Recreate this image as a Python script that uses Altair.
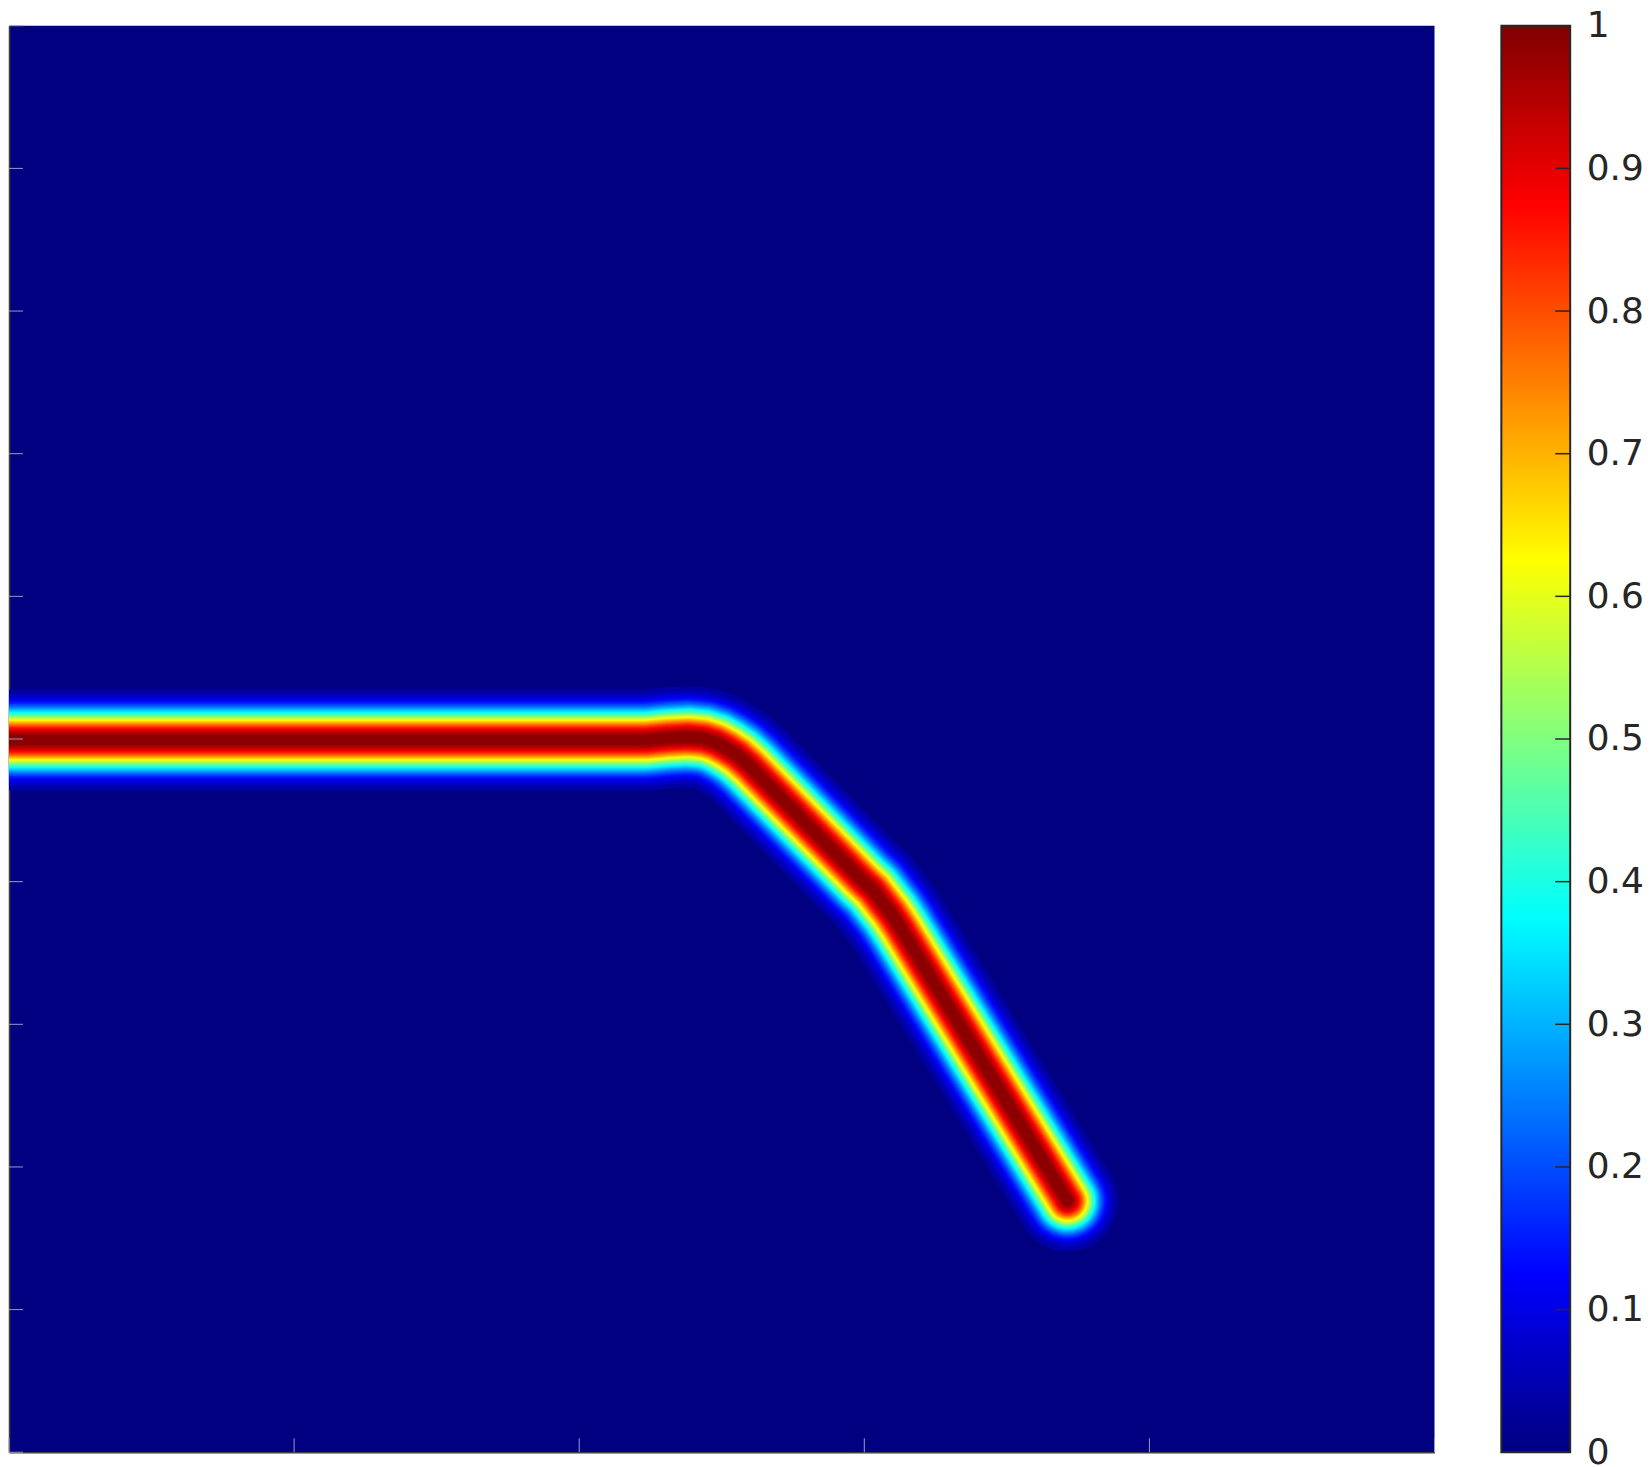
import altair as alt
import numpy as np
import pandas as pd

# ---- data ----
# crack centre line (domain units, x right, y up)
crack_x = [0.0, 0.4469, 0.4623, 0.4763, 0.4875, 0.4959, 0.5036, 0.5112, 0.5196,
           0.5987, 0.6060, 0.6125, 0.6186, 0.6245, 0.7425]
crack_y = [0.4993, 0.4993, 0.5007, 0.5014, 0.5003, 0.4976, 0.4934, 0.4885, 0.4811,
           0.4008, 0.3941, 0.3857, 0.3780, 0.3691, 0.1762]

y_ticks = [0.0, 0.1, 0.2, 0.3, 0.4, 0.5, 0.6, 0.7, 0.8, 0.9, 1.0]
x_ticks = [0.0, 0.2, 0.4, 0.6, 0.8, 1.0]
cb_ticks = [0.0, 0.1, 0.2, 0.3, 0.4, 0.5, 0.6, 0.7, 0.8, 0.9, 1.0]

# ---- styles ----
W, H = 1429, 1430
CB_W = 69
PROFILE_PX = 28.0   # half width scale of the smeared crack (pixels)
PROFILE_POW = 2.2   # flatness of the crack profile

jet_offsets = [0.0, 0.125, 0.375, 0.625, 0.875, 1.0]
jet_rgb = [(0, 0, 0.5), (0, 0, 1), (0, 1, 1), (1, 1, 0), (1, 0, 0), (0.5, 0, 0)]


def jet_hex(v):
    r = np.interp(v, jet_offsets, [c[0] for c in jet_rgb])
    g = np.interp(v, jet_offsets, [c[1] for c in jet_rgb])
    b = np.interp(v, jet_offsets, [c[2] for c in jet_rgb])
    return "#%02x%02x%02x" % (int(round(r * 255)), int(round(g * 255)), int(round(b * 255)))


path_df = pd.DataFrame({"x": crack_x, "y": crack_y, "i": list(range(len(crack_x)))})

x_scale = alt.Scale(domain=[0, 1], nice=False, zero=False)
y_scale = alt.Scale(domain=[0, 1], nice=False, zero=False)
x_axis = alt.Axis(title=None, labels=False, ticks=False, grid=False, domain=True,
                  domainColor="#404040", domainWidth=1.5)
y_axis = alt.Axis(title=None, labels=False, ticks=False, grid=False, domain=True,
                  domainColor="#404040", domainWidth=1.5)
xs = alt.X("x:Q", scale=x_scale, axis=x_axis)
ys = alt.Y("y:Q", scale=y_scale, axis=y_axis)

layers = []
step = 0.025
for k in range(1, 40):
    v = k * step
    r = PROFILE_PX * np.log(1.0 / v) ** (1.0 / PROFILE_POW)
    col = jet_hex(min(v + step / 2, 1.0))
    layers.append(
        alt.Chart(path_df)
        .mark_line(color=col, strokeWidth=float(2 * r), strokeCap="round",
                   strokeJoin="round", clip=True)
        .encode(x=xs, y=ys, order="i:Q")
    )

ytick_layer = (
    alt.Chart(pd.DataFrame({"t": y_ticks}))
    .mark_rule(color="#9a9ac8", strokeWidth=1)
    .encode(y=alt.Y("t:Q", scale=y_scale, axis=y_axis), x=alt.value(0), x2=alt.value(14))
)
xtick_layer = (
    alt.Chart(pd.DataFrame({"t": x_ticks}))
    .mark_rule(color="#9a9ac8", strokeWidth=1)
    .encode(x=alt.X("t:Q", scale=x_scale, axis=x_axis), y=alt.value(H), y2=alt.value(H - 14))
)

heat = alt.layer(*layers, ytick_layer, xtick_layer).properties(
    width=W, height=H, view=alt.ViewBackground(fill="#000080", strokeWidth=0)
)

# ---- colour bar ----
grad = alt.LinearGradient(
    gradient="linear",
    stops=[alt.GradientStop(color=jet_hex(o), offset=o) for o in jet_offsets],
    x1=0, x2=0, y1=1, y2=0,
)
cb_scale = alt.Scale(domain=[0, 1], nice=False, zero=False)
cb_axis = alt.Axis(orient="right", values=cb_ticks, format=".1~f",
                   labelFontSize=36, labelFont="DejaVu Sans",
                   labelColor="#262626", ticks=False, domain=False,
                   grid=False, labelPadding=16, title=None)
bar = (
    alt.Chart(pd.DataFrame({"lo": [0.0], "hi": [1.0]}))
    .mark_rect(fill=grad, stroke="#262626", strokeWidth=2)
    .encode(
        y=alt.Y("lo:Q", scale=cb_scale, axis=cb_axis),
        y2="hi:Q",
        x=alt.value(0),
        x2=alt.value(CB_W),
    )
)
cb_tick_layer = (
    alt.Chart(pd.DataFrame({"t": cb_ticks[1:-1]}))
    .mark_rule(color="#262626", strokeWidth=1.5)
    .encode(y=alt.Y("t:Q", scale=cb_scale, axis=cb_axis),
            x=alt.value(CB_W - 15), x2=alt.value(CB_W))
)
cbar = alt.layer(bar, cb_tick_layer).properties(width=CB_W, height=H)

chart = (
    alt.hconcat(heat, cbar, spacing=65)
    .properties(padding={"top": -2, "bottom": 0, "left": 0, "right": 0})
    .configure_view(strokeWidth=0)
)

chart.save("out.html", embed_options={"renderer": "svg", "actions": False})
